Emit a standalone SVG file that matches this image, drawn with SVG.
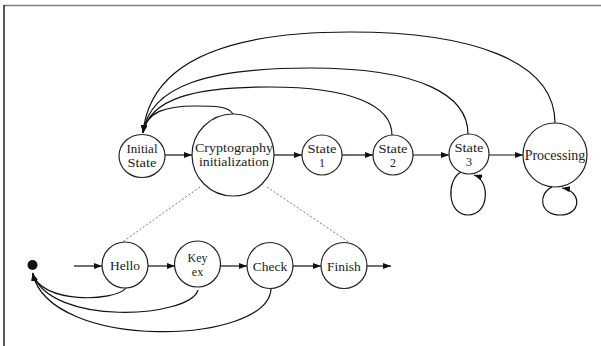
<svg xmlns="http://www.w3.org/2000/svg" width="601" height="346" viewBox="0 0 601 346">
  <style>
    .node { fill: #fff; stroke: #222; stroke-width: 1.2; }
    .edge { fill: none; stroke: #111; stroke-width: 1.2; }
    .dash { fill: none; stroke: #777; stroke-width: 1; stroke-dasharray: 2 2; }
    .lbl { font-family: "Liberation Serif", "Times New Roman", serif; font-size: 12px; fill: #222; text-anchor: middle; }
    .one { font-size: 14px; }
    .sm { font-size: 13.5px; }
  </style>
  <defs>
    <marker id="arrow" viewBox="0 0 8 6" refX="8" refY="3" markerWidth="8" markerHeight="6" markerUnits="userSpaceOnUse" orient="auto">
      <path d="M0,0 L8,3 L0,6 z" fill="#111"/>
    </marker>
  </defs>

  <rect x="0" y="0" width="601" height="346" fill="#fff"/>
  <!-- frame -->
  <line x1="4" y1="5.5" x2="601" y2="5.5" stroke="#808080" stroke-width="1.5"/>
  <line x1="4" y1="5" x2="4" y2="346" stroke="#222" stroke-width="1.5"/>

  <g id="connectors">
    <!-- main chain -->
    <path class="edge" d="M165,155 L192,155" marker-end="url(#arrow)"/>
    <path class="edge" d="M274,155 L302,155" marker-end="url(#arrow)"/>
    <path class="edge" d="M342,155 L373,155" marker-end="url(#arrow)"/>
    <path class="edge" d="M413,155 L449,155" marker-end="url(#arrow)"/>
    <path class="edge" d="M489,155 L523,155" marker-end="url(#arrow)"/>
    <!-- returns to the initial state -->
    <path class="edge" d="M233,114 C228,106 215,106 195,106 C165,106 146,112 143,133" marker-end="url(#arrow)"/>
    <path class="edge" d="M392,135 C392,105 350,87 270,87 C195,87 150,98 143,133" marker-end="url(#arrow)"/>
    <path class="edge" d="M468,134 C468,95 420,68 310,68 C210,68 150,85 143,133" marker-end="url(#arrow)"/>
    <path class="edge" d="M555,123 C555,60 470,32 350,32 C230,32 150,60 143,133" marker-end="url(#arrow)"/>
    <!-- self loops -->
    <path class="edge" d="M461,172 C446,180 447,215 468,215 C490,215 490,180 474,175" marker-end="url(#arrow)"/>
    <path class="edge" d="M552,187 C538,193 539,215 560,215 C582,215 582,191 562,188" marker-end="url(#arrow)"/>
    <!-- expansion of the initialization state -->
    <path class="dash" d="M200,187 L121,243"/>
    <path class="dash" d="M267,187 L350,243"/>
    <!-- handshake chain -->
    <path class="edge" d="M74,266 L102,266" marker-end="url(#arrow)"/>
    <path class="edge" d="M148,266 L175,266" marker-end="url(#arrow)"/>
    <path class="edge" d="M220,266 L247,266" marker-end="url(#arrow)"/>
    <path class="edge" d="M293,266 L321,266" marker-end="url(#arrow)"/>
    <path class="edge" d="M367,266 L391,266" marker-end="url(#arrow)"/>
    <!-- handshake failures back to the start point -->
    <path class="edge" d="M126,288 C115,302 40,304 32.5,273" marker-end="url(#arrow)"/>
    <path class="edge" d="M198,290 C190,318 50,327 32.5,273" marker-end="url(#arrow)"/>
    <path class="edge" d="M271,289 C268,345 50,352 32.5,273" marker-end="url(#arrow)"/>
  </g>

  <g id="initial-state">
    <ellipse class="node" cx="142" cy="156" rx="23" ry="21.5"/>
    <text class="lbl" x="142" y="152.5" textLength="31" lengthAdjust="spacingAndGlyphs">Initial</text>
    <text class="lbl" x="142" y="166.5" textLength="29" lengthAdjust="spacingAndGlyphs">State</text>
  </g>
  <g id="crypto-init">
    <circle class="node" cx="233" cy="155" r="41"/>
    <text class="lbl" x="234" y="152" textLength="78" lengthAdjust="spacingAndGlyphs">Cryptography</text>
    <text class="lbl" x="234" y="166" textLength="70" lengthAdjust="spacingAndGlyphs">initialization</text>
  </g>
  <g id="state-1">
    <circle class="node" cx="322" cy="155" r="20"/>
    <text class="lbl" x="322" y="152.5" textLength="29" lengthAdjust="spacingAndGlyphs">State</text>
    <text class="lbl" x="322" y="166.5">1</text>
  </g>
  <g id="state-2">
    <circle class="node" cx="393" cy="155" r="20"/>
    <text class="lbl" x="393" y="152.5" textLength="29" lengthAdjust="spacingAndGlyphs">State</text>
    <text class="lbl" x="393" y="166.5">2</text>
  </g>
  <g id="state-3">
    <circle class="node" cx="469" cy="154" r="20"/>
    <text class="lbl" x="469" y="151.5" textLength="29" lengthAdjust="spacingAndGlyphs">State</text>
    <text class="lbl" x="469" y="165.5">3</text>
  </g>
  <g id="processing">
    <circle class="node" cx="555" cy="155" r="32"/>
    <text class="lbl one" x="555" y="159.5">Processing</text>
  </g>

  <g id="start-point">
    <circle cx="32.5" cy="265" r="5" fill="#111"/>
  </g>
  <g id="hello">
    <circle class="node" cx="125" cy="265" r="23"/>
    <text class="lbl sm" x="125" y="270">Hello</text>
  </g>
  <g id="key-ex">
    <circle class="node" cx="197.5" cy="264" r="23"/>
    <text class="lbl" x="197.5" y="262">Key</text>
    <text class="lbl" x="197.5" y="276">ex</text>
  </g>
  <g id="check">
    <circle class="node" cx="270" cy="265.5" r="23"/>
    <text class="lbl sm" x="270" y="270.5">Check</text>
  </g>
  <g id="finish">
    <circle class="node" cx="344" cy="265.5" r="23"/>
    <text class="lbl sm" x="344" y="270.5">Finish</text>
  </g>
</svg>
